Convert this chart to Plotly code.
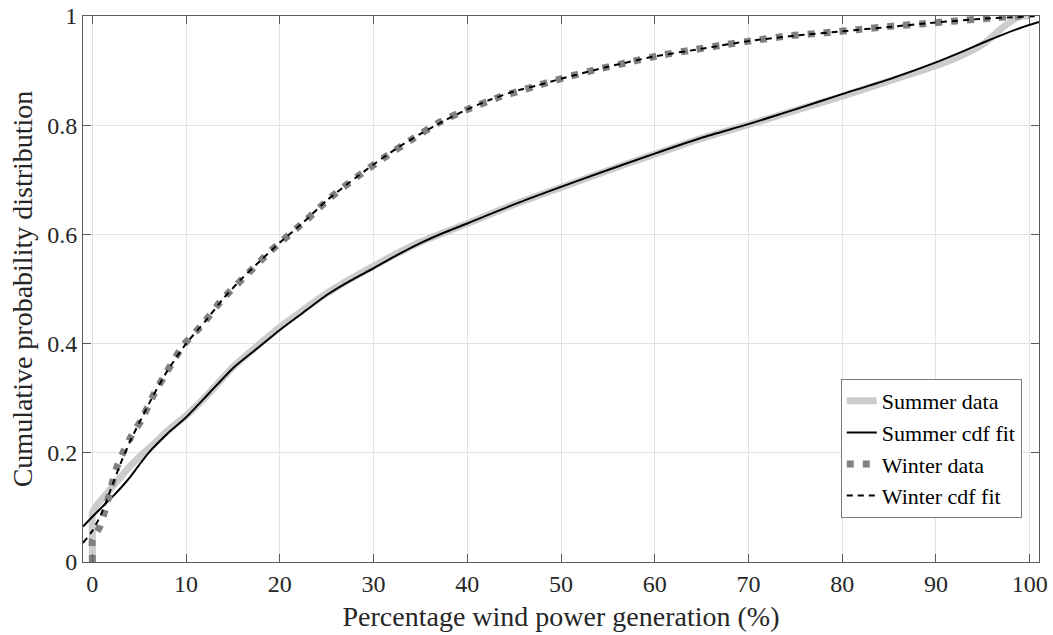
import plotly.graph_objects as go

# ---- data ----
summer_data_x = [0, 0, 0, 0.5, 1, 2, 3, 4, 5, 6.5, 8, 10, 12.5, 15, 20, 25, 30, 35, 40, 45, 50, 55, 60, 65, 70, 75, 80, 85, 90, 93, 95, 96, 97, 98, 99, 100]
summer_data_y = [0, 0.05, 0.09, 0.105, 0.115, 0.135, 0.155, 0.175, 0.192, 0.215, 0.24, 0.268, 0.31, 0.357, 0.43, 0.492, 0.542, 0.586, 0.62, 0.655, 0.686, 0.717, 0.747, 0.776, 0.801, 0.827, 0.853, 0.881, 0.909, 0.93, 0.948, 0.962, 0.977, 0.99, 1.0, 1.0]

summer_fit_x = [-1, 0, 1, 2, 3, 4, 5, 6, 8, 10, 12.5, 15, 17.5, 20, 22.5, 25, 27.5, 30, 32.5, 35, 37.5, 40, 45, 50, 55, 60, 65, 70, 75, 80, 85, 90, 93, 95, 97, 99, 101]
summer_fit_y = [0.065, 0.083, 0.1, 0.117, 0.135, 0.155, 0.178, 0.2, 0.235, 0.265, 0.31, 0.355, 0.39, 0.425, 0.457, 0.489, 0.515, 0.538, 0.562, 0.584, 0.603, 0.62, 0.655, 0.687, 0.718, 0.748, 0.777, 0.802, 0.829, 0.857, 0.884, 0.915, 0.936, 0.951, 0.965, 0.978, 0.989]

winter_data_x = [0, 0, 0, 0.8, 1.3, 1.8, 2.2, 2.7, 3.4, 4.2, 5.2, 6.5, 8, 9.7, 11.8, 13.9, 16.4, 18.9, 20.3, 22.8, 25.3, 28.2, 31, 33.9, 37.1, 40.3, 43.5, 47, 50.2, 53.8, 57.4, 60.6, 64.1, 67.7, 70.9, 74.4, 78, 81.6, 85.1, 88.7, 92.2, 95.8, 99, 100]
winter_data_y = [0, 0.02, 0.04, 0.065, 0.092, 0.123, 0.15, 0.178, 0.205, 0.232, 0.259, 0.305, 0.35, 0.397, 0.436, 0.482, 0.525, 0.568, 0.589, 0.626, 0.666, 0.705, 0.739, 0.772, 0.806, 0.831, 0.852, 0.87, 0.886, 0.902, 0.916, 0.928, 0.938, 0.948, 0.956, 0.964, 0.969, 0.975, 0.981, 0.986, 0.991, 0.996, 1.0, 1.0]

winter_fit_x = [-1, 0, 1, 2, 3, 4, 5, 6.5, 8, 10, 12, 14, 16, 18, 20, 22.5, 25, 27.5, 30, 32.5, 35, 37.5, 40, 42.5, 45, 47.5, 50, 55, 60, 65, 70, 75, 80, 85, 90, 95, 101]
winter_fit_y = [0.035, 0.057, 0.09, 0.135, 0.18, 0.22, 0.255, 0.305, 0.35, 0.4, 0.44, 0.483, 0.52, 0.553, 0.585, 0.622, 0.662, 0.696, 0.728, 0.758, 0.784, 0.808, 0.829, 0.847, 0.862, 0.873, 0.885, 0.907, 0.926, 0.94, 0.954, 0.964, 0.972, 0.98, 0.988, 0.995, 1.0]

x_ticks = [0, 10, 20, 30, 40, 50, 60, 70, 80, 90, 100]
y_ticks = [0, 0.2, 0.4, 0.6, 0.8, 1]
y_tick_text = ["0", "0.2", "0.4", "0.6", "0.8", "1"]

FONT = "Liberation Serif, Times New Roman, serif"
TXT = "#262626"

fig = go.Figure()
fig.add_trace(go.Scatter(x=summer_data_x, y=summer_data_y, mode="lines", name="Summer data",
                         line=dict(color="#cccccc", width=7, shape="spline", smoothing=0.5)))
fig.add_trace(go.Scatter(x=summer_fit_x, y=summer_fit_y, mode="lines", name="Summer cdf fit",
                         line=dict(color="#000000", width=2, shape="spline", smoothing=0.6)))
fig.add_trace(go.Scatter(x=winter_data_x, y=winter_data_y, mode="lines", name="Winter data",
                         line=dict(color="#808080", width=7, dash="7px,9px", shape="spline", smoothing=0.5)))
fig.add_trace(go.Scatter(x=winter_fit_x, y=winter_fit_y, mode="lines", name="Winter cdf fit",
                         line=dict(color="#000000", width=2, dash="6px,5px", shape="spline", smoothing=0.6)))

axis_common = dict(
    showline=True, linecolor="#5a5a5a", linewidth=1, mirror="ticks",
    ticks="inside", ticklen=8, tickcolor="#5a5a5a", tickwidth=1,
    showgrid=True, gridcolor="#e3e3e3", gridwidth=1, zeroline=False,
    tickfont=dict(family=FONT, size=24, color=TXT),
    automargin=False,
)

fig.update_layout(
    width=1053, height=635,
    margin=dict(l=83, r=14, t=16, b=73),
    paper_bgcolor="white", plot_bgcolor="white",
    font=dict(family=FONT, color=TXT),
    showlegend=True,
    legend=dict(
        x=0.982, y=0.0806, xanchor="right", yanchor="bottom",
        bgcolor="white", bordercolor="#7a7a7a", borderwidth=1,
        font=dict(family=FONT, size=22, color="#000000"),
        tracegroupgap=0, itemwidth=30,
    ),
    xaxis=dict(range=[-1, 101], tickvals=x_ticks,
               title=dict(text="Percentage wind power generation (%)", font=dict(family=FONT, size=28, color=TXT), standoff=10),
               **axis_common),
    yaxis=dict(range=[0, 1], tickvals=y_ticks, ticktext=y_tick_text,
               title=dict(text="Cumulative probability distribution", font=dict(family=FONT, size=28, color=TXT), standoff=6),
               **axis_common),
)

fig.write_html("out.html")
